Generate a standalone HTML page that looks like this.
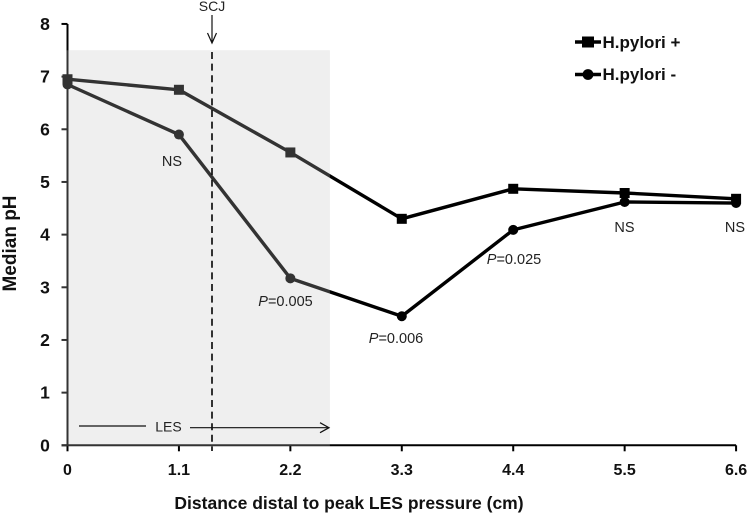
<!DOCTYPE html>
<html>
<head>
<meta charset="utf-8">
<style>
html,body{margin:0;padding:0;background:#fff}
svg{display:block}
text{font-family:"Liberation Sans",sans-serif}
</style>
</head>
<body>
<svg id="chart" width="750" height="515" viewBox="0 0 750 515" xmlns="http://www.w3.org/2000/svg"></svg>
<script>
const categories = ['0','1.1','2.2','3.3','4.4','5.5','6.6'];
const yTicks = ['0','1','2','3','4','5','6','7','8'];
const seriesPositive = [6.95,6.75,5.56,4.3,4.87,4.79,4.68];
const seriesNegative = [6.85,5.9,3.17,2.45,4.09,4.62,4.6];
const annotationLabels = ['NS','P=0.005','P=0.006','P=0.025','NS','NS'];

const svg = document.getElementById('chart');
const NS = 'http://www.w3.org/2000/svg';
const X0 = 67.5, XSTEP = 111.43, Y0 = 445.3, YSTEP = 52.67;
const xAt = i => X0 + i * XSTEP;
const xVal = v => X0 + (v / 1.1) * XSTEP;
const yAt = v => Y0 - v * YSTEP;

function mk(tag, attrs, parent, txt){
  const el = document.createElementNS(NS, tag);
  for (const k in attrs) el.setAttribute(k, attrs[k]);
  if (txt !== undefined) el.textContent = txt;
  (parent || svg).appendChild(el);
  return el;
}

/* shaded LES region */
const shade = mk('rect',{x:X0,y:yAt(7.5),width:xVal(2.6)-X0-1,height:Y0-yAt(7.5),fill:'#ebebeb'});



/* axes */
const axes = mk('g',{stroke:'#000','stroke-width':2,fill:'none'});


mk('line',{x1:X0,y1:yAt(8),x2:X0,y2:Y0},axes);
mk('line',{x1:X0-6,y1:Y0,x2:xAt(6),y2:Y0},axes);

yTicks.forEach(t=>{
  const y = yAt(+t);
  const tick = mk('line',{x1:X0-6,y1:y,x2:X0,y2:y},axes);
  
  
  const label = mk('text',{x:45,y:y+6,'text-anchor':'middle','font-size':17.5,'font-weight':'bold',fill:'#111'},svg,t);
  
  
});
categories.forEach((c,i)=>{
  const x = xAt(i);
  const tick = mk('line',{x1:x,y1:Y0,x2:x,y2:Y0+6},axes);
  
  
  const label = mk('text',{x:x,y:475,'text-anchor':'middle','font-size':16,'font-weight':'bold',fill:'#111'},svg,c);
  
  
});

/* series */
function pts(a){return a.map((v,i)=>xAt(i)+','+yAt(v)).join(' ');}
const gPos = mk('g',{});


mk('polyline',{points:pts(seriesPositive),fill:'none',stroke:'#000','stroke-width':3.4,'stroke-linejoin':'round'},gPos);
seriesPositive.forEach((v,i)=>{
  const m = mk('rect',{x:xAt(i)-5,y:yAt(v)-5,width:10,height:10,fill:'#000'},gPos);
  
  
});
const gNeg = mk('g',{});


mk('polyline',{points:pts(seriesNegative),fill:'none',stroke:'#000','stroke-width':3.4,'stroke-linejoin':'round'},gNeg);
seriesNegative.forEach((v,i)=>{
  const m = mk('circle',{cx:xAt(i),cy:yAt(v),r:5,fill:'#000'},gNeg);
  
  
});

/* veil that lightens the marks inside the shaded band */
const veil = mk('rect',{x:X0-8,y:yAt(7.5),width:xVal(2.6)-X0+7,height:Y0-yAt(7.5)+1,fill:'#fff','fill-opacity':0.2});



/* SCJ marker */
const scjX = 212;
const scj = mk('g',{});


mk('text',{x:scjX,y:11,'text-anchor':'middle','font-size':14,fill:'#222'},scj,'SCJ');
mk('line',{x1:scjX,y1:15,x2:scjX,y2:42,stroke:'#111','stroke-width':1.2},scj);
mk('polyline',{points:(scjX-4.5)+',33 '+scjX+',43 '+(scjX+4.5)+',33',fill:'none',stroke:'#111','stroke-width':1.2},scj);
mk('line',{x1:scjX,y1:52,x2:scjX,y2:451,stroke:'#111','stroke-width':1.7,'stroke-dasharray':'7 4.6'},scj);

/* LES arrow */
const les = mk('g',{});


mk('line',{x1:79,y1:426,x2:146,y2:426,stroke:'#111','stroke-width':1.2},les);
mk('text',{x:168.5,y:431.5,'text-anchor':'middle','font-size':14,fill:'#222'},les,'LES');
mk('line',{x1:190,y1:427.7,x2:329,y2:427.7,stroke:'#111','stroke-width':1.2},les);
mk('polyline',{points:'320,422.7 329,427.7 320,432.7',fill:'none',stroke:'#111','stroke-width':1.2},les);

/* annotations */
const annotationAnchors = [[172,166],[285.5,306],[396,343],[514,264],[624.5,232],[735,232]];
annotationLabels.forEach((s,i)=>{
  const a = annotationAnchors[i];
  const t = mk('text',{x:a[0],y:a[1],'text-anchor':'middle','font-size':14.5,fill:'#222'});
  
  
  if (s[0]==='P'){
    mk('tspan',{'font-style':'italic'},t,'P');
    mk('tspan',{},t,s.slice(1));
  } else t.textContent = s;
});

/* legend */
const legend = mk('g',{});


const l1 = mk('g',{},legend);


mk('line',{x1:575,y1:42,x2:601,y2:42,stroke:'#000','stroke-width':3.4},l1);
mk('rect',{x:582,y:36.5,width:12,height:11,fill:'#000'},l1);
mk('text',{x:602.5,y:48,'font-size':17,'font-weight':'bold',fill:'#111'},l1,'H.pylori +');
const l2 = mk('g',{},legend);


mk('line',{x1:575,y1:74.5,x2:601,y2:74.5,stroke:'#000','stroke-width':3.4},l2);
mk('circle',{cx:588,cy:74.5,r:5.4,fill:'#000'},l2);
mk('text',{x:602.5,y:80,'font-size':17,'font-weight':'bold',fill:'#111'},l2,'H.pylori -');

/* axis titles */
const xt = mk('text',{x:349,y:509,'text-anchor':'middle','font-size':17.5,'font-weight':'bold',fill:'#111'},svg,'Distance distal to peak LES pressure (cm)');


const yt = mk('text',{x:0,y:0,transform:'translate(16,243.5) rotate(-90)','text-anchor':'middle','font-size':19,'font-weight':'bold',fill:'#111'},svg,'Median pH');


</script>
</body>
</html>
